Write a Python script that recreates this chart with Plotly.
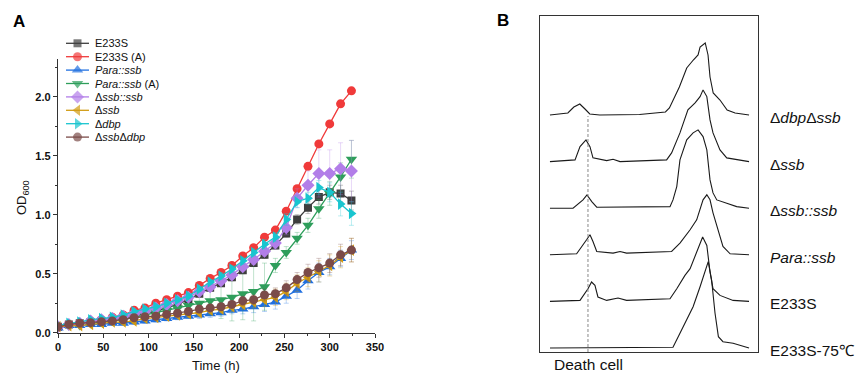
import plotly.graph_objects as go

W, H = 860, 373
FONT = "Liberation Sans, Arial, sans-serif"

def fx(px):
    return px / W

def fy(py):
    return 1 - py / H

# ---------------- Panel A data ----------------
time_h = [0, 12, 24, 36, 48, 60, 72, 84, 96, 108, 120, 132, 144, 156,
          168, 180, 192, 204, 216, 228, 240, 252, 264, 276, 288, 300, 312, 324]

od_e233s = [0.05, 0.07, 0.08, 0.09, 0.10, 0.11, 0.12, 0.14, 0.16, 0.18, 0.21, 0.24, 0.28, 0.33,
            0.38, 0.42, 0.47, 0.53, 0.59, 0.66, 0.74, 0.84, 0.96, 1.06, 1.15, 1.19, 1.18, 1.12]
od_e233s_a = [0.05, 0.07, 0.08, 0.10, 0.11, 0.13, 0.15, 0.19, 0.21, 0.25, 0.28, 0.31, 0.34, 0.40,
              0.46, 0.51, 0.57, 0.65, 0.72, 0.81, 0.87, 1.03, 1.22, 1.41, 1.60, 1.77, 1.94, 2.05]
od_para = [0.04, 0.06, 0.06, 0.07, 0.07, 0.08, 0.08, 0.09, 0.10, 0.11, 0.12, 0.13, 0.14, 0.15,
           0.16, 0.17, 0.19, 0.20, 0.22, 0.24, 0.26, 0.31, 0.36, 0.44, 0.51, 0.56, 0.63, 0.70]
od_para_a = [0.05, 0.06, 0.06, 0.08, 0.09, 0.10, 0.11, 0.13, 0.15, 0.17, 0.19, 0.21, 0.23, 0.25,
             0.27, 0.28, 0.30, 0.33, 0.35, 0.39, 0.57, 0.68, 0.80, 0.91, 1.05, 1.18, 1.32, 1.47]
od_comp = [0.05, 0.07, 0.08, 0.10, 0.11, 0.12, 0.14, 0.16, 0.18, 0.21, 0.24, 0.27, 0.30, 0.35,
           0.39, 0.44, 0.49, 0.56, 0.62, 0.69, 0.76, 0.89, 1.14, 1.25, 1.35, 1.35, 1.39, 1.37]
od_dssb = [0.05, 0.06, 0.06, 0.07, 0.08, 0.09, 0.09, 0.10, 0.12, 0.13, 0.14, 0.15, 0.16, 0.17,
           0.19, 0.20, 0.22, 0.24, 0.26, 0.28, 0.30, 0.35, 0.42, 0.47, 0.52, 0.57, 0.64, 0.70]
od_ddbp = [0.06, 0.08, 0.09, 0.11, 0.12, 0.13, 0.15, 0.18, 0.20, 0.22, 0.25, 0.28, 0.31, 0.37,
           0.43, 0.48, 0.54, 0.61, 0.68, 0.75, 0.81, 0.96, 1.11, 1.14, 1.23, 1.19, 1.09, 1.01]
od_double = [0.05, 0.07, 0.08, 0.085, 0.093, 0.10, 0.11, 0.127, 0.135, 0.14, 0.155, 0.165, 0.18, 0.20,
             0.21, 0.22, 0.24, 0.27, 0.28, 0.32, 0.33, 0.38, 0.45, 0.51, 0.55, 0.59, 0.66, 0.70]

err_e233s = [0.01, 0.01, 0.01, 0.01, 0.01, 0.01, 0.01, 0.01, 0.01, 0.02, 0.02, 0.02, 0.02, 0.02,
             0.02, 0.02, 0.03, 0.03, 0.03, 0.03, 0.03, 0.03, 0.04, 0.05, 0.06, 0.06, 0.07, 0.08]
err_e233s_a = [0.01, 0.01, 0.01, 0.01, 0.01, 0.01, 0.01, 0.01, 0.01, 0.01, 0.01, 0.01, 0.01, 0.01,
               0.01, 0.01, 0.01, 0.01, 0.01, 0.02, 0.02, 0.02, 0.02, 0.02, 0.02, 0.02, 0.02, 0.02]
err_para = [0.01, 0.01, 0.01, 0.01, 0.01, 0.01, 0.01, 0.02, 0.02, 0.02, 0.02, 0.02, 0.02, 0.03,
            0.03, 0.03, 0.03, 0.04, 0.05, 0.06, 0.06, 0.06, 0.07, 0.07, 0.08, 0.07, 0.07, 0.08]
err_para_a = [0.01, 0.01, 0.01, 0.01, 0.01, 0.01, 0.02, 0.02, 0.02, 0.03, 0.04, 0.05, 0.06, 0.08,
              0.12, 0.16, 0.20, 0.22, 0.25, 0.20, 0.06, 0.05, 0.05, 0.06, 0.08, 0.10, 0.12, 0.16]
err_comp = [0.01, 0.01, 0.01, 0.01, 0.01, 0.01, 0.01, 0.01, 0.02, 0.02, 0.02, 0.02, 0.02, 0.02,
            0.02, 0.03, 0.03, 0.03, 0.04, 0.04, 0.05, 0.06, 0.08, 0.12, 0.20, 0.20, 0.22, 0.26]
err_dssb = [0.01, 0.01, 0.01, 0.01, 0.01, 0.01, 0.02, 0.02, 0.02, 0.02, 0.02, 0.02, 0.03, 0.03,
            0.03, 0.03, 0.04, 0.04, 0.05, 0.06, 0.07, 0.07, 0.07, 0.08, 0.09, 0.09, 0.09, 0.10]
err_ddbp = [0.01, 0.01, 0.01, 0.01, 0.01, 0.01, 0.01, 0.01, 0.02, 0.02, 0.02, 0.02, 0.02, 0.02,
            0.02, 0.03, 0.03, 0.03, 0.03, 0.04, 0.04, 0.05, 0.05, 0.05, 0.06, 0.08, 0.10, 0.10]
err_double = [0.01, 0.01, 0.01, 0.01, 0.01, 0.01, 0.01, 0.02, 0.02, 0.02, 0.02, 0.02, 0.02, 0.03,
              0.03, 0.03, 0.03, 0.04, 0.04, 0.05, 0.05, 0.06, 0.06, 0.07, 0.08, 0.08, 0.09, 0.10]

series_names = ["E233S", "E233S (A)", "<i>Para::ssb</i>", "<i>Para::ssb</i> (A)",
                "Δ<i>ssb::ssb</i>", "Δ<i>ssb</i>", "Δ<i>dbp</i>", "Δ<i>ssb</i>Δ<i>dbp</i>"]
series_values = [od_e233s, od_e233s_a, od_para, od_para_a, od_comp, od_dssb, od_ddbp, od_double]
series_errors = [err_e233s, err_e233s_a, err_para, err_para_a, err_comp, err_dssb, err_ddbp, err_double]
series_colors = ["#3e3e3e", "#f03a3a", "#1f6fe0", "#2e9e5b", "#b27ee8", "#d19b12", "#19c5cf", "#7b4b49"]
series_symbols = ["square", "circle", "triangle-up", "triangle-down", "diamond",
                  "triangle-left", "triangle-right", "circle"]
series_sizes = [8, 9, 10, 10, 10, 10, 10, 9]

# ---------------- Panel B data ----------------
hist_labels = ["Δ<i>dbp</i>Δ<i>ssb</i>", "Δ<i>ssb</i>", "Δ<i>ssb::ssb</i>",
               "<i>Para::ssb</i>", "E233S", "E233S-75℃"]
hist1_x = [0, 9, 12, 15, 17.6, 20, 25, 45, 58, 60, 65, 68.7, 72, 74.4, 75.4, 77, 78, 79.4, 80.4, 82, 85.4, 89, 93, 100]
hist1_y = [0, 2, 8, 11, 6, 1, 0, 0.5, 3, 7, 28, 47, 55, 60, 68, 70, 72, 60, 38, 22, 15, 5, 2, 0]
hist2_x = [0, 12.6, 15.1, 18.1, 20.1, 21.6, 28.5, 31.7, 35.2, 58.6, 61.1, 65.3, 69.3, 72.9, 75.4, 76.9, 78.8, 80.4, 81.9, 85.4, 88.8, 100]
hist2_y = [0, 1.7, 15, 21.7, 15, 3.7, 1, 2.4, 0, 1.7, 8.7, 28.7, 51.7, 58.7, 65, 71.7, 65, 41.7, 28.7, 11.7, 3.7, 0]
hist3_x = [0, 11.6, 16.6, 18.6, 21, 23.5, 60.3, 61.8, 63.7, 65.3, 68.7, 71.9, 74.4, 76.9, 78.8, 80.4, 81.9, 83.8, 88.8, 93.8, 100]
hist3_y = [0, 0, 8.3, 13.3, 6.6, 1, 1.6, 8.3, 21.6, 48.3, 68.3, 75.3, 78.3, 71.6, 58.3, 28.3, 15.3, 8.3, 5, 1.6, 0]
hist4_x = [0, 13.4, 18.4, 20.1, 21.6, 23.5, 31.7, 35.2, 38.5, 61.1, 65.3, 70.4, 73.7, 76.9, 78.8, 80.4, 81.9, 84.4, 86.9, 90.5, 100]
hist4_y = [0, 1, 15, 20, 13.3, 3.3, 1.7, 3.3, 1.7, 3.3, 11.7, 25, 35, 55, 60, 55, 42, 25, 8.3, 1, 0]
hist5_x = [0, 15.1, 19.1, 20.9, 22.6, 24.1, 28.5, 34.2, 38.5, 60.3, 63.7, 67.8, 70.4, 73.7, 76.7, 78.8, 80.4, 81.9, 85.4, 92, 100]
hist5_y = [0, 1, 12.7, 19.4, 16, 4.4, 1, 3.4, 1, 2.7, 12.7, 26, 32.7, 49.4, 64.4, 56, 29.4, 12.7, 6, 1, 0]
hist6_x = [0, 61.8, 65.3, 68.7, 71.9, 75.4, 77.9, 79.5, 81.2, 82.9, 84.6, 86.9, 92, 97, 100]
hist6_y = [0, 0.7, 14.7, 28, 41.3, 61.3, 78, 86.3, 68, 35, 11.3, 6.3, 4.7, 1.3, 0]
hist_x = [hist1_x, hist2_x, hist3_x, hist4_x, hist5_x, hist6_x]
hist_y = [hist1_y, hist2_y, hist3_y, hist4_y, hist5_y, hist6_y]
death_gate = 19.1


def rgba(hexc, a):
    h = hexc.lstrip("#")
    return "rgba(%d,%d,%d,%.2f)" % (int(h[0:2], 16), int(h[2:4], 16), int(h[4:6], 16), a)


fig = go.Figure()

# Panel A traces
for name, vals, errs, col, sym, sz in zip(series_names, series_values, series_errors,
                                          series_colors, series_symbols, series_sizes):
    fig.add_trace(go.Scatter(
        x=time_h, y=vals, mode="lines+markers", name=name, showlegend=False,
        line=dict(color=col, width=1.3),
        marker=dict(symbol=sym, size=sz, color=col, line=dict(width=0)),
        error_y=dict(type="data", array=errs, color=rgba(col, 0.3), thickness=1, width=2.5),
        xaxis="x", yaxis="y"))

# Panel A custom legend (pixel-space overlay)
LEG_X0, LEG_X1, LEG_Y0, LEG_DY = 66, 89, 43.3, 13.4
annotations = []
for i, (name, col, sym, sz) in enumerate(zip(series_names, series_colors, series_symbols, series_sizes)):
    yy = LEG_Y0 + i * LEG_DY
    fig.add_trace(go.Scatter(
        x=[LEG_X0, (LEG_X0 + LEG_X1) / 2, LEG_X1], y=[yy, yy, yy], mode="lines+markers",
        showlegend=False, hoverinfo="skip",
        line=dict(color=col, width=1.3),
        marker=dict(symbol=sym, size=[0, sz, 0], color=col, line=dict(width=0)),
        xaxis="x3", yaxis="y3"))
    annotations.append(dict(x=LEG_X1 + 4, y=yy, xref="x3", yref="y3", text=name, showarrow=False,
                            xanchor="left", yanchor="middle",
                            font=dict(family=FONT, size=11, color="#111")))

# Panel B traces
n_hist = len(hist_labels)
STEP, BASE = 46.6, 4
for k in range(n_hist):
    off = BASE + (n_hist - 1 - k) * STEP
    fig.add_trace(go.Scatter(
        x=hist_x[k], y=[v + off for v in hist_y[k]], mode="lines", showlegend=False,
        line=dict(color="#1a1a1a", width=1.1), xaxis="x2", yaxis="y2"))
    annotations.append(dict(x=fx(768), y=off - 2.5, xref="paper", yref="y2", text=hist_labels[k],
                            showarrow=False, xanchor="left", yanchor="middle",
                            font=dict(family=FONT, size=15.5, color="#111")))

top_base = BASE + (n_hist - 1) * STEP
shapes = [dict(type="line", xref="x2", yref="y2", x0=death_gate, x1=death_gate, y0=0, y1=top_base - 1,
               line=dict(color="#888", width=1, dash="3px,2px"))]

# Text: panel letters, axis titles
annotations += [
    dict(x=fx(18.5), y=fy(21), xref="paper", yref="paper", text="<b>A</b>", showarrow=False,
         xanchor="center", yanchor="middle", font=dict(family=FONT, size=17, color="#000")),
    dict(x=fx(503), y=fy(20), xref="paper", yref="paper", text="<b>B</b>", showarrow=False,
         xanchor="center", yanchor="middle", font=dict(family=FONT, size=17, color="#000")),
    dict(x=fx(216), y=fy(365.5), xref="paper", yref="paper", text="Time (h)", showarrow=False,
         xanchor="center", yanchor="middle", font=dict(family=FONT, size=13, color="#111")),
    dict(x=fx(22), y=fy(198), xref="paper", yref="paper", text="OD<sub>600</sub>", showarrow=False,
         textangle=-90, xanchor="center", yanchor="middle", font=dict(family=FONT, size=13, color="#111")),
    dict(x=fx(588), y=fy(364.5), xref="paper", yref="paper", text="Death cell", showarrow=False,
         xanchor="center", yanchor="middle", font=dict(family=FONT, size=15.5, color="#111")),
]

axA = dict(showline=True, linecolor="#333", linewidth=1.3, ticks="outside", ticklen=4, tickwidth=1.2,
           tickcolor="#333", showgrid=False, zeroline=False, automargin=False,
           tickfont=dict(family=FONT, size=11, color="#111", weight="bold"))
axB = dict(showline=True, mirror=True, linecolor="#333", linewidth=1, ticks="", showticklabels=False,
           showgrid=False, zeroline=False, automargin=False)
axC = dict(visible=False, showgrid=False, zeroline=False, automargin=False)

fig.update_layout(
    width=W, height=H, margin=dict(l=0, r=0, t=0, b=0), template="none",
    paper_bgcolor="white", plot_bgcolor="rgba(0,0,0,0)", showlegend=False,
    xaxis=dict(axA, domain=[fx(58), fx(375)], range=[0, 350], tick0=0, dtick=50, anchor="y",
               minor=dict(ticks="outside", ticklen=2, dtick=25, tickcolor="#333")),
    yaxis=dict(axA, domain=[fy(332.7), fy(59)], range=[0, 2.32], tick0=0, dtick=0.5, tickformat=".1f",
               anchor="x", minor=dict(ticks="outside", ticklen=2, dtick=0.25, tickcolor="#333")),
    xaxis2=dict(axB, domain=[fx(540), fx(758)], range=[-5, 104.5], anchor="y2"),
    yaxis2=dict(axB, domain=[fy(352), fy(15.7)], range=[0, 336.3], anchor="x2"),
    xaxis3=dict(axC, domain=[0, 1], range=[0, W], anchor="y3"),
    yaxis3=dict(axC, domain=[0, 1], range=[H, 0], anchor="x3"),
    annotations=annotations, shapes=shapes,
)

fig.write_html("out.html", config={"displayModeBar": False},
               post_script="document.body.style.margin='0px';document.body.style.overflow='hidden';")
